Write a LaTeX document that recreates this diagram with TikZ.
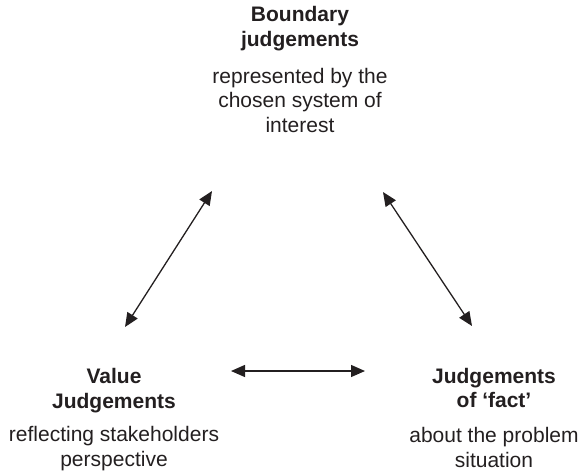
\documentclass[tikz,border=0pt]{standalone}
\usepackage{fontspec}
\setmainfont{Liberation Sans}
\usetikzlibrary{arrows.meta}
\definecolor{ink}{HTML}{231F20}
\begin{document}
\begin{tikzpicture}[x=1pt,y=-1pt,
    heading/.style={font=\fontsize{21}{24.5}\selectfont\bfseries,align=center,
      inner sep=0pt,anchor=base,text=ink},
    remark/.style={font=\fontsize{21}{24.5}\selectfont,align=center,
      inner sep=0pt,anchor=base,text=ink},
    twoway/.style={draw=ink,line width=1.3pt,
      {Triangle[length=14pt,width=12pt]}-{Triangle[length=14pt,width=12pt]}}]
  \useasboundingbox (0,0) rectangle (584,475);
  %% boundary judgements
  \node[heading] (bound) at (300,46) {Boundary\\judgements};
  \node[remark] (boundtxt) at (300,132) {represented by the\\chosen system of\\interest};
  %% value judgements
  \node[heading] (value) at (114,408) {Value\\Judgements};
  \node[remark] (valuetxt) at (114,466) {reflecting stakeholders\\perspective};
  %% judgements of fact
  \node[heading] (fact) at (494,407.5) {Judgements\\of `fact'};
  \node[remark] (facttxt) at (494,467) {about the problem\\situation};
  %% arrow ends
  \coordinate (bl) at (212,191);
  \coordinate (vt) at (125,327);
  \coordinate (br) at (383,192);
  \coordinate (ft) at (472,326);
  \coordinate (vr) at (231,371);
  \coordinate (fl) at (365,371);
  \draw[twoway] (bl) -- (vt);
  \draw[twoway] (br) -- (ft);
  \draw[twoway] (vr) -- (fl);
\end{tikzpicture}
\end{document}
